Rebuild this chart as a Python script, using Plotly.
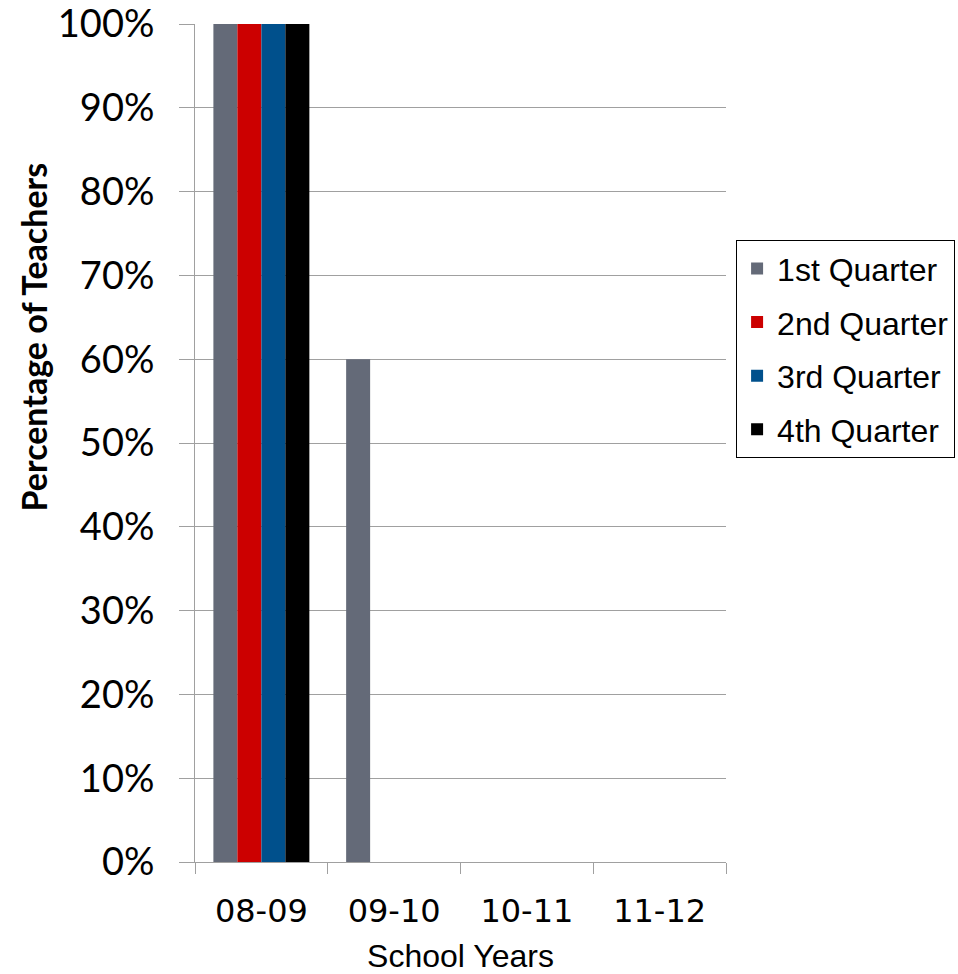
import plotly.graph_objects as go

years = ["08-09", "09-10", "10-11", "11-12"]
q1 = [1.00, 0.60, 0, 0]
q2 = [1.00, 0, 0, 0]
q3 = [1.00, 0, 0, 0]
q4 = [1.00, 0, 0, 0]
series_names = ["1st Quarter", "2nd Quarter", "3rd Quarter", "4th Quarter"]
series_values = [q1, q2, q3, q4]
colors = ["#646A78", "#CC0000", "#00508C", "#000000"]

fig = go.Figure()
for i, (name, vals, col) in enumerate(zip(series_names, series_values, colors)):
    fig.add_trace(go.Bar(x=years, y=vals, name=name, marker=dict(color=col, line=dict(width=0)),
                         legendgroup=f"g{i}"))

fig.add_annotation(text="<b>Percentage of Teachers</b>", textangle=-90,
                   xref="paper", yref="paper", x=-0.305, y=0.626,
                   xanchor="center", yanchor="middle", showarrow=False,
                   font=dict(family="Lato", size=34, color="#000000"))

fig.update_layout(
    width=958, height=974,
    margin=dict(l=195, r=232, t=24, b=112, autoexpand=False),
    plot_bgcolor="white", paper_bgcolor="white",
    barmode="group", bargap=0.277, bargroupgap=0,
    showlegend=True,
    legend=dict(x=1.019, y=0.742, xanchor="left", yanchor="top",
                bordercolor="#000000", borderwidth=1,
                font=dict(family="Liberation Sans, Arial", size=32, color="#000000"),
                traceorder="grouped", tracegroupgap=9, itemwidth=30),
    xaxis=dict(type="category", tickson="boundaries", ticks="outside", ticklen=11,
               tickcolor="#A0A0A0", showline=True, linecolor="#A0A0A0", linewidth=1,
               showgrid=False, ticklabelstandoff=21,
               tickfont=dict(family="DejaVu Sans", size=32, color="#000000"),
               title=dict(text="School Years", standoff=18,
                          font=dict(family="Liberation Sans, Arial", size=32, color="#000000"))),
    yaxis=dict(range=[0, 1], dtick=0.1, tickformat=".0%", ticks="outside", ticklen=15,
               tickcolor="#A0A0A0", showline=True, linecolor="#A0A0A0", linewidth=1,
               showgrid=True, gridcolor="#A0A0A0", gridwidth=1, zeroline=False,
               ticklabelstandoff=17, ticklabeloverflow="allow",
               tickfont=dict(family="Lato", size=38, color="#000000")),
)

fig.write_html("out.html")
